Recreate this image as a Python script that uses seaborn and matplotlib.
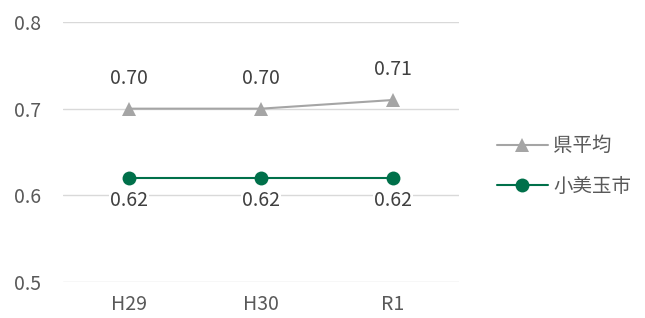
import matplotlib
matplotlib.use("Agg")
import matplotlib.pyplot as plt
import pandas as pd
import seaborn as sns

years = ["H29", "H30", "R1"]
pref_avg = [0.70, 0.70, 0.71]
city = [0.62, 0.62, 0.62]
series_names = ["県平均", "小美玉市"]

sns.set_theme(style="white")
plt.rcParams["font.family"] = ["Noto Sans CJK JP", "DejaVu Sans"]

df = pd.DataFrame({
    "year": years * 2,
    "value": pref_avg + city,
    "series": [series_names[0]] * 3 + [series_names[1]] * 3,
})

gray = "#A5A5A5"
green = "#00704A"

fig = plt.figure(figsize=(6.45, 3.18), dpi=100)
ax = fig.add_axes([63 / 645, 1 - 282 / 318, 396 / 645, 260 / 318])

sns.lineplot(data=df, x="year", y="value", hue="series", style="series",
             markers={"県平均": "^", "小美玉市": "o"}, dashes=False,
             palette={"県平均": gray, "小美玉市": green},
             markersize=10, markeredgewidth=0, linewidth=1.5, ax=ax, legend=True)

ax.set_xlim(-0.5, 2.5)
ax.set_ylim(0.5, 0.8)
ax.set_yticks([0.5, 0.6, 0.7, 0.8])
ax.set_yticklabels(["0.5", "0.6", "0.7", "0.8"])
ax.yaxis.grid(True, color="#D9D9D9", linewidth=1)
ax.set_axisbelow(True)
for s in ax.spines.values():
    s.set_visible(False)
ax.tick_params(axis="both", length=0, labelsize=14, labelcolor="#595959")
ax.tick_params(axis="x", pad=9)
ax.tick_params(axis="y", pad=16)
ax.set_xlabel("")
ax.set_ylabel("")

for i, v in enumerate(pref_avg):
    ax.annotate(f"{v:.2f}", (i, v), xytext=(0, 22), textcoords="offset points",
                ha="center", va="center", fontsize=14, color="#404040")
for i, v in enumerate(city):
    t = ax.annotate(f"{v:.2f}", (i, v), xytext=(0, -16), textcoords="offset points",
                    ha="center", va="center", fontsize=14, color="#404040")
    t.set_bbox(dict(facecolor="white", edgecolor="none", pad=1))

handles, labels = ax.get_legend_handles_labels()
ax.legend(handles, labels, loc="center left", bbox_to_anchor=(1.096, 0.446),
          frameon=False, fontsize=14, labelcolor="#595959",
          borderaxespad=0, borderpad=0,
          handlelength=2.6, handletextpad=0.3, labelspacing=1.0)

fig.savefig("out.png", dpi=100)
